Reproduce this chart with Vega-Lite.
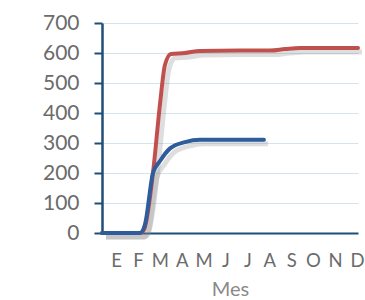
{
  "$schema": "https://vega.github.io/schema/vega-lite/v6.json",
  "autosize": "none",
  "width": 256,
  "height": 210,
  "padding": {"left": 102, "top": 23, "right": 7, "bottom": 67},
  "background": "white",
  "config": {"view": {"stroke": null}, "font": "Lato"},
  "data": {"values": [
    {"serie": "A", "t": 0, "v": 0},
    {"serie": "A", "t": 1.78, "v": 0},
    {"serie": "A", "t": 1.97, "v": 10},
    {"serie": "A", "t": 2.39, "v": 200},
    {"serie": "A", "t": 2.72, "v": 430},
    {"serie": "A", "t": 2.95, "v": 560},
    {"serie": "A", "t": 3.23, "v": 597},
    {"serie": "A", "t": 3.89, "v": 600},
    {"serie": "A", "t": 4.59, "v": 607},
    {"serie": "A", "t": 6.47, "v": 608},
    {"serie": "A", "t": 7.88, "v": 608},
    {"serie": "A", "t": 8.58, "v": 613},
    {"serie": "A", "t": 9.28, "v": 617},
    {"serie": "A", "t": 12, "v": 617},
    {"serie": "B", "t": 0, "v": 0},
    {"serie": "B", "t": 1.78, "v": 0},
    {"serie": "B", "t": 2.02, "v": 30},
    {"serie": "B", "t": 2.39, "v": 200},
    {"serie": "B", "t": 2.72, "v": 240},
    {"serie": "B", "t": 3.19, "v": 282},
    {"serie": "B", "t": 3.89, "v": 303},
    {"serie": "B", "t": 4.59, "v": 311},
    {"serie": "B", "t": 7.59, "v": 311}
  ]},
  "encoding": {
    "x": {"field": "t", "type": "quantitative",
      "scale": {"domain": [0, 12], "nice": false, "zero": false},
      "axis": {
        "values": [0.66, 1.69, 2.71, 3.74, 4.76, 5.79, 6.82, 7.84, 8.87, 9.89, 10.92, 11.95],
        "labelExpr": "['E','F','M','A','M','J','J','A','S','O','N','D'][indexof([0.66, 1.69, 2.71, 3.74, 4.76, 5.79, 6.82, 7.84, 8.87, 9.89, 10.92, 11.95], datum.value)]",
        "grid": false, "ticks": false,
        "domainColor": "#1F4E79", "domainWidth": 2,
        "labelFontSize": 18.5, "labelColor": "#6b6b6b", "labelPadding": 18,
        "labelOverlap": false, "labelFlush": false,
        "title": "Mes", "titleFontSize": 20, "titleFontWeight": "normal", "titleColor": "#8a8a8a", "titlePadding": 10
      }},
    "y": {"field": "v", "type": "quantitative",
      "scale": {"domain": [0, 700], "nice": false},
      "axis": {
        "values": [0, 100, 200, 300, 400, 500, 600, 700],
        "grid": true, "gridColor": "#D2E5EC", "gridWidth": 1.2,
        "domainColor": "#1F4E79", "domainWidth": 2.5,
        "tickColor": "#1F4E79", "tickWidth": 2, "tickSize": 8,
        "labelFontSize": 21, "labelColor": "#6b6b6b", "labelPadding": 15,
        "title": null
      }}
  },
  "layer": [
    {
      "mark": {"type": "line", "interpolate": "monotone", "strokeWidth": 5, "color": "#888888", "opacity": 0.28, "xOffset": 4, "yOffset": 4},
      "encoding": {"detail": {"field": "serie"}}
    },
    {
      "mark": {"type": "line", "interpolate": "monotone", "strokeWidth": 4, "strokeCap": "round", "strokeJoin": "round"},
      "encoding": {
        "color": {"field": "serie", "type": "nominal", "scale": {"domain": ["A", "B"], "range": ["#C0504D", "#2F5C9A"]}, "legend": null},
        "order": {"field": "serie", "sort": "ascending"}
      }
    }
  ]
}
